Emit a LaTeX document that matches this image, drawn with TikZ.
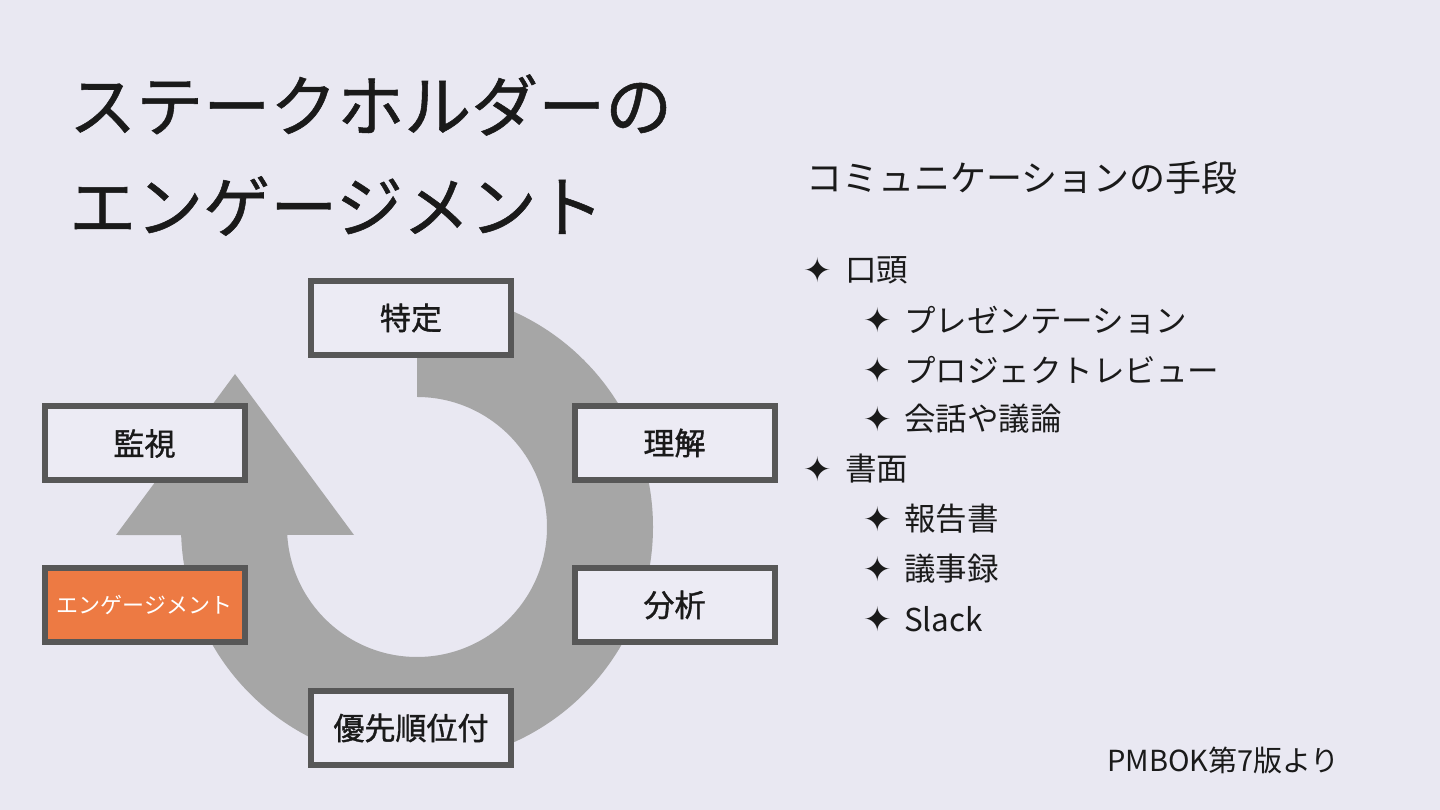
\documentclass[tikz,border=0pt]{standalone}
\usepackage{fontspec}
\usetikzlibrary{calc}
\setmainfont{Noto Sans CJK JP}
\newfontfamily\jpmed[FakeBold=1.2]{Noto Sans CJK JP}
\newfontfamily\jptitle[FakeBold=0.8]{Noto Sans CJK JP}
\newfontfamily\symfont{DejaVu Sans}
\definecolor{bg}{HTML}{E9E8F2}
\definecolor{boxfill}{HTML}{ECEBF4}
\definecolor{boxline}{HTML}{575757}
\definecolor{ringgray}{HTML}{A6A6A6}
\definecolor{engorange}{HTML}{ED7A43}
\definecolor{ink}{HTML}{1A1A1A}
\tikzset{
  stepbox/.style={draw=boxline, line width=6pt, fill=boxfill, minimum width=200pt, minimum height=74pt, inner sep=0pt, outer sep=0pt, text=ink, font=\jpmed\fontsize{31}{31}\selectfont},
  activebox/.style={stepbox, fill=engorange, text=white, font=\fontsize{22}{22}\selectfont},
  titletext/.style={anchor=west, inner sep=0pt, text=ink, font=\jptitle\fontsize{67}{67}\selectfont},
  headtext/.style={anchor=west, inner sep=0pt, text=ink, font=\fontsize{36}{36}\selectfont},
  itemtext/.style={anchor=west, inner sep=0pt, text=ink, font=\fontsize{31.5}{31.5}\selectfont},
  bulletmark/.style={inner sep=0pt, text=ink, font=\symfont\fontsize{34}{34}\selectfont},
  notetext/.style={anchor=west, inner sep=0pt, text=ink, font=\fontsize{29}{29}\selectfont}
}
\begin{document}
\begin{tikzpicture}[x=1pt,y=1pt]
\useasboundingbox (0,0) rectangle (1440,810);
\fill[bg] (0,0) rectangle (1440,810);

% circular arrow
\coordinate (ringc) at (417,283);
\fill[ringgray]
  ($(ringc)+(90:236)$) arc[start angle=90, end angle=-178, radius=236]
  -- (116,275) -- (235,436) -- (354,275)
  -- ($(ringc)+(183.5:130)$) arc[start angle=183.5, end angle=450, radius=130]
  -- cycle;

% boxes
\node[stepbox] (tokutei) at (411,492) {特定};
\node[stepbox] (kanshi) at (144.5,366.5) {監視};
\node[stepbox] (rikai) at (674.5,367) {理解};
\node[activebox] (engage) at (144.5,205) {エンゲージメント};
\node[stepbox] (bunseki) at (674.5,205) {分析};
\node[stepbox] (yusen) at (411,82) {優先順位付};

% title
\node[titletext] (title1) at (69,705) {ステークホルダーの};
\node[titletext] (title2) at (69,604) {エンゲージメント};

% right list
\node[headtext] (head) at (806,632) {コミュニケーションの手段};
\node[bulletmark] (b1) at (818,540) {✦};
\node[itemtext] (i1) at (845,540) {口頭};
\node[bulletmark] (b2) at (878,490) {✦};
\node[itemtext] (i2) at (904,490) {プレゼンテーション};
\node[bulletmark] (b3) at (878,440) {✦};
\node[itemtext] (i3) at (904,440) {プロジェクトレビュー};
\node[bulletmark] (b4) at (878,391) {✦};
\node[itemtext] (i4) at (904,391) {会話や議論};
\node[bulletmark] (b5) at (818,341) {✦};
\node[itemtext] (i5) at (845,341) {書面};
\node[bulletmark] (b6) at (878,291) {✦};
\node[itemtext] (i6) at (904,291) {報告書};
\node[bulletmark] (b7) at (878,241) {✦};
\node[itemtext] (i7) at (904,241) {議事録};
\node[bulletmark] (b8) at (878,191) {✦};
\node[itemtext] (i8) at (904,191) {Slack};

\node[notetext] (note) at (1107,50) {PMBOK第7版より};
\end{tikzpicture}
\end{document}
